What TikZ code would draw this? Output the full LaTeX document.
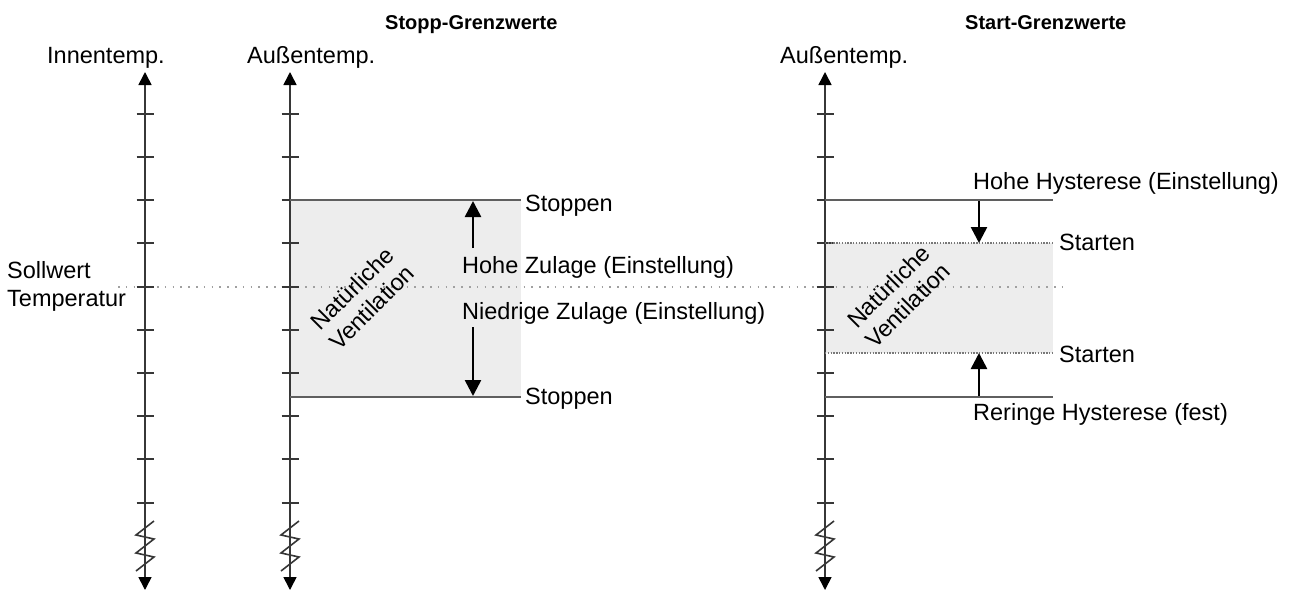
\documentclass[tikz,border=0pt]{standalone}
\usepackage{fontspec}
\setmainfont{Liberation Sans}
\usetikzlibrary{arrows.meta}
\definecolor{axisgray}{RGB}{55,55,55}
\definecolor{linegray}{RGB}{95,95,95}
\definecolor{boxfill}{RGB}{237,237,237}
\definecolor{dotgray}{RGB}{120,120,120}
\definecolor{setgray}{RGB}{160,160,160}
\begin{document}
\begin{tikzpicture}[x=1pt,y=-1pt,
  lbl/.style={font=\fontsize{23.5}{27}\selectfont, inner sep=0pt},
  ttl/.style={font=\fontsize{20}{24}\selectfont\bfseries, inner sep=0pt},
  axisline/.style={draw=axisgray, line width=1.6pt,
    {Triangle[width=13pt,length=13pt,color=black]}-{Triangle[width=13pt,length=13pt,color=black]}},
  tickline/.style={draw=axisgray, line width=1.5pt},
  zigline/.style={draw=axisgray, line width=1.6pt},
  limit/.style={draw=linegray, line width=1.8pt},
  dlimit/.style={draw=dotgray, line width=1.6pt, dash pattern=on 1.4pt off 1.4pt},
  setline/.style={draw=setgray, line width=1.6pt, dash pattern=on 1.6pt off 6.2pt},
  bigarrow/.style={draw=black, line width=2.6pt, -{Triangle[width=16pt,length=16pt]}},
]
\useasboundingbox (0,0) rectangle (1295,592);
\fill[white] (0,0) rectangle (1295,592);

% shaded regions
\fill[boxfill] (290,200) rectangle (521,397);
\fill[boxfill] (825,243) rectangle (1053,353);

% set point line
\coordinate (sp1) at (118,287);
\coordinate (sp2) at (1066,287);
\draw[setline] (sp1) -- (sp2);

% axes
\foreach \ax/\nm in {145/a,290/b,825/c}{
  \coordinate (\nm top) at (\ax,72);
  \coordinate (\nm bot) at (\ax,590);
  \draw[axisline] (\nm bot) -- (\nm top);
  \foreach \ty in {114,157,200,243,287,330,373,416,459,503}{
    \draw[tickline] (\ax-8.5,\ty) -- (\ax+8.5,\ty);
  }
  \draw[zigline] (\ax+9,521) -- (\ax-9,535) -- (\ax+9,539) -- (\ax-9,553) -- (\ax+9,557) -- (\ax-9,571);
}

% stop limits
\coordinate (st1) at (290,200);
\coordinate (st2) at (521,200);
\coordinate (sb1) at (290,397);
\coordinate (sb2) at (521,397);
\draw[limit] (st1) -- (st2);
\draw[limit] (sb1) -- (sb2);
\coordinate (upA) at (473,248);
\coordinate (upB) at (473,201);
\coordinate (dnA) at (473,327);
\coordinate (dnB) at (473,396);
\draw[bigarrow] (upA) -- (upB);
\draw[bigarrow] (dnA) -- (dnB);

% start limits
\coordinate (h1) at (825,200);
\coordinate (h2) at (1053,200);
\coordinate (s1) at (825,243);
\coordinate (s2) at (1053,243);
\coordinate (s3) at (825,353);
\coordinate (s4) at (1053,353);
\coordinate (r1) at (825,397);
\coordinate (r2) at (1053,397);
\draw[limit] (h1) -- (h2);
\draw[dlimit] (s1) -- (s2);
\draw[dlimit] (s3) -- (s4);
\draw[limit] (r1) -- (r2);
\coordinate (hA) at (979,201);
\coordinate (hB) at (979,243);
\coordinate (rA) at (979,396);
\coordinate (rB) at (979,353);
\draw[bigarrow] (hA) -- (hB);
\draw[bigarrow] (rA) -- (rB);

% titles
\node[ttl, anchor=base west] (t1) at (385,29) {Stopp-Grenzwerte};
\node[ttl, anchor=base west] (t2) at (965,29) {Start-Grenzwerte};

% axis labels
\node[lbl, anchor=base west] (l1) at (47,63) {Innentemp.};
\node[lbl, anchor=base west] (l2) at (247,63) {Außentemp.};
\node[lbl, anchor=base west] (l3) at (780,63) {Außentemp.};
\node[lbl, anchor=base west] (l4) at (7,278) {Sollwert};
\node[lbl, anchor=base west] (l5) at (7,306) {Temperatur};

% stop labels
\node[lbl, anchor=base west] (k1) at (525,211) {Stoppen};
\node[lbl, anchor=base west] (k2) at (525,404) {Stoppen};
\node[lbl, anchor=base west] (k3) at (462,273) {Hohe Zulage (Einstellung)};
\node[lbl, anchor=base west] (k4) at (462,319) {Niedrige Zulage (Einstellung)};

% start labels
\node[lbl, anchor=base west] (m1) at (973,189) {Hohe Hysterese (Einstellung)};
\node[lbl, anchor=base west] (m2) at (1059,250) {Starten};
\node[lbl, anchor=base west] (m3) at (1059,362) {Starten};
\node[lbl, anchor=base west] (m4) at (973,420) {Reringe Hysterese (fest)};

% rotated labels
\node[lbl, rotate=45, align=center] (v1) at (362,298) {Natürliche\\Ventilation};
\node[lbl, rotate=45, align=center] (v2) at (898,296) {Natürliche\\Ventilation};
\end{tikzpicture}
\end{document}
